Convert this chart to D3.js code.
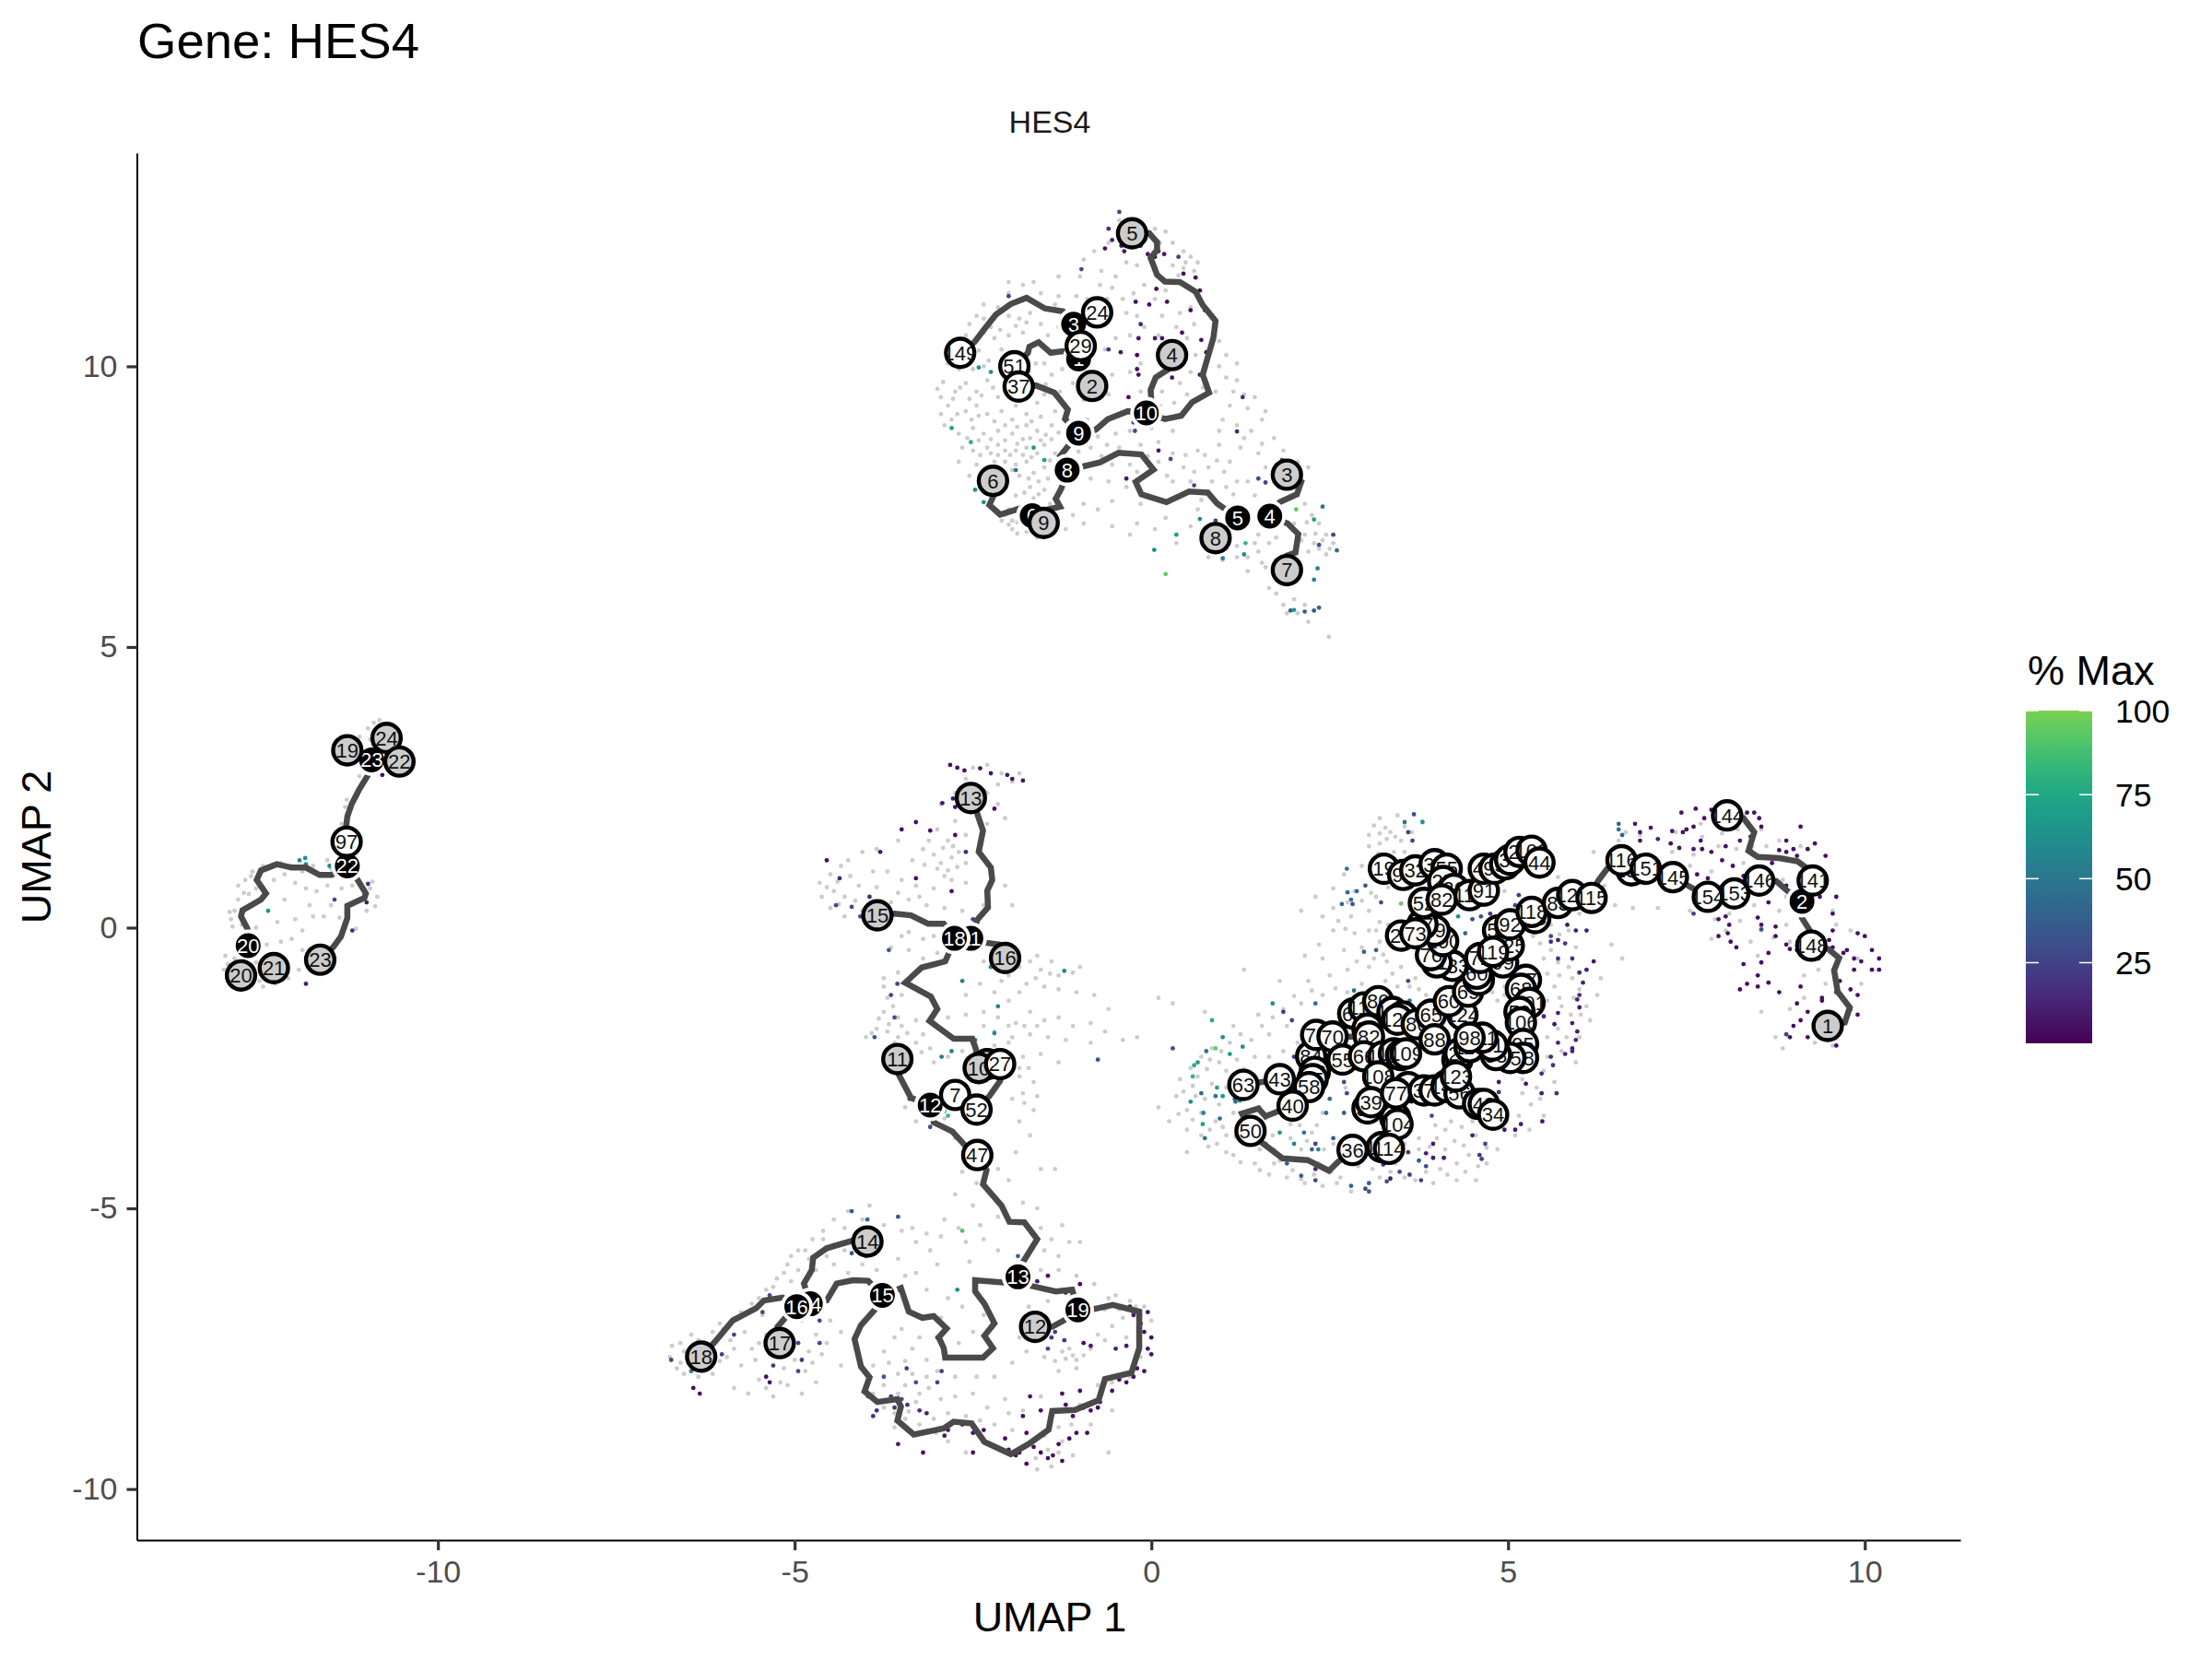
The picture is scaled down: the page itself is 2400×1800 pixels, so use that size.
<!DOCTYPE html>
<html>
<head>
<meta charset="utf-8">
<script src="https://cdn.jsdelivr.net/npm/d3@7"></script>
<style>
  body { margin: 0; background: #fff; }
  text { font-family: "Liberation Sans", Arial, sans-serif; }
</style>
</head>
<body>
<svg id="chart" width="2400" height="1800"></svg>
<script>
const xTicks = [-10, -5, 0, 5, 10]
const yTicks = [-10, -5, 0, 5, 10]
const legendTicks = [25, 50, 75, 100]

// cells with no expression, read off the picture by cluster
const greyTop = [[-0.45,12.6],[-0.3,12.55],[-0.15,12.5],[0.05,12.45],[0.2,12.4],[-0.6,12.2],[-0.8,12.05],[-0.4,12.15],[0.3,12.2],[0.45,12.05],[0.55,11.95],[0.65,11.85],[0.45,11.75],[0.6,11.7],[-0.95,11.9],[-0.7,11.7],[-0.5,11.6],[-0.2,11.8],[0.3,11.8],[0.2,11.35],[0.05,11.2],[-0.1,11.45],[-0.25,11.3],[-0.4,11.2],[-0.55,11.4],[-0.9,11.2],[-1.05,11.25],[-1.3,11.25],[-1.35,11.1],[-1.55,11.3],[-1.0,11.6],[-1.3,11.6],[-2.0,11.5],[-1.65,11.5],[-1.8,11.45],[-2.0,11.3],[-2.15,11.05],[-2.35,11.1],[-2.45,10.9],[-2.2,10.85],[-2.0,10.9],[-1.85,10.85],[-1.7,10.95],[-2.55,10.75],[-2.35,10.6],[-2.6,10.55],[-2.2,10.5],[-2.0,10.55],[-1.8,10.6],[-1.55,10.75],[-1.3,10.7],[-2.85,10.05],[-2.7,9.95],[-2.5,9.95],[-2.35,10.0],[-2.1,10.1],[-1.5,10.05],[-1.4,9.85],[-1.25,9.95],[-1.1,9.7],[-0.65,10.3],[-0.5,10.5],[-0.3,10.55],[-0.1,10.7],[0.1,10.55],[0.35,10.7],[0.5,10.5],[0.6,10.75],[-0.35,10.95],[-0.2,10.9],[0.15,10.9],[0.4,10.95],[0.55,11.05],[-0.55,9.85],[-0.3,9.9],[-0.15,10.05],[0.1,9.85],[0.4,9.7],[0.55,9.9],[0.95,10.45],[1.05,10.2],[1.2,10.05],[0.95,10.0],[1.05,9.8],[1.2,9.75],[0.9,9.55],[1.3,9.5],[1.35,9.25],[1.1,9.3],[1.6,9.2],[1.55,9.05],[1.0,9.05],[1.2,8.95],[0.95,8.85],[1.4,8.85],[-3.0,9.6],[-2.95,9.45],[-2.85,9.3],[-2.95,9.15],[-2.8,9.05],[-2.9,8.95],[-2.75,9.55],[-2.6,9.7],[-2.45,9.55],[-2.3,9.75],[-2.15,9.45],[-2.45,9.3],[-2.6,9.2],[-2.3,9.15],[-2.1,9.2],[-1.9,9.3],[-1.75,9.15],[-1.6,9.35],[-1.95,9.05],[-1.75,8.95],[-1.55,9.1],[-1.4,8.95],[-1.35,9.2],[-2.7,8.8],[-2.5,8.9],[-2.35,8.8],[-2.15,8.85],[-1.95,8.8],[-1.8,8.7],[-1.6,8.85],[-1.4,8.7],[-2.65,8.55],[-2.5,8.5],[-2.3,8.55],[-2.15,8.6],[-2.25,8.45],[-2.05,8.5],[-1.9,8.5],[-1.75,8.55],[-1.6,8.45],[-1.5,8.6],[-1.35,8.45],[-2.7,8.3],[-2.45,8.25],[-2.2,8.3],[-2.05,8.3],[-1.9,8.25],[-1.75,8.3],[-1.95,8.15],[-1.85,8.05],[-1.65,8.1],[-1.5,8.2],[-1.45,8.0],[-2.55,8.05],[-1.7,7.85],[-1.5,7.8],[-1.9,7.7],[-1.65,7.65],[-1.35,7.65],[-2.0,7.45],[-1.95,7.25],[-1.8,7.15],[-2.1,7.25],[-1.95,7.1],[-1.75,7.05],[-1.6,6.95],[-1.2,7.1],[-1.1,7.35],[-0.95,7.55],[-0.95,7.2],[-0.75,7.45],[-0.55,7.15],[-0.55,7.6],[-0.35,7.85],[-0.2,7.2],[-0.3,7.0],[-0.15,7.55],[0.05,7.1],[0.2,7.3],[0.35,6.85],[0.55,7.15],[0.65,7.45],[-0.85,8.0],[-0.6,7.95],[-0.7,8.4],[-0.3,8.25],[-0.15,8.6],[-0.05,8.4],[0.1,8.65],[0.3,8.45],[0.45,8.2],[0.65,8.5],[0.8,8.2],[0.95,8.6],[1.1,8.3],[1.25,8.55],[0.3,7.95],[0.55,7.95],[0.85,7.95],[1.05,7.85],[1.2,7.95],[1.45,7.7],[1.6,8.2],[1.5,8.45],[1.85,8.5],[2.05,8.3],[2.2,8.2],[0.75,6.85],[0.8,6.6],[1.0,6.55],[1.2,6.8],[1.35,6.6],[1.35,6.35],[1.55,6.5],[1.65,6.85],[1.75,6.55],[1.5,7.0],[1.05,7.0],[2.0,7.2],[2.1,6.9],[2.25,7.35],[2.35,7.2],[2.45,7.0],[2.55,6.85],[2.35,6.75],[2.2,6.7],[2.45,6.65],[2.15,7.55],[1.65,6.05],[1.75,5.95],[1.85,5.75],[2.0,5.85],[2.05,5.6],[2.2,5.45],[2.15,5.75],[2.49,5.18],[1.9,5.6],[-0.75,8.75],[-0.5,8.8],[-0.3,8.85],[-0.9,9.05],[-0.6,9.5],[-0.95,9.4],[0.0,8.9],[0.3,8.85]]
const greyTop2 = [[-2.92,9.72],[-2.78,9.42],[-2.68,9.62],[-2.55,9.42],[-2.38,9.48],[-2.22,9.62],[-2.02,9.5],[-1.82,9.45],[-1.5,9.5],[-1.28,9.55],[-1.48,9.68],[-2.72,9.15],[-2.52,9.05],[-2.42,9.12],[-2.2,9.02],[-2.05,8.95],[-1.88,8.92],[-1.68,9.02],[-1.48,8.78],[-1.3,8.82],[-2.58,8.72],[-2.42,8.68],[-2.25,8.7],[-2.05,8.68],[-1.88,8.62],[-1.7,8.72],[-1.55,8.68],[-2.4,8.42],[-2.15,8.42],[-1.98,8.42],[-1.8,8.42],[-1.68,8.38],[-1.42,8.32],[-2.32,8.18],[-2.12,8.12],[-1.72,8.0],[-1.58,7.95],[-1.78,7.75],[-1.58,7.72],[-1.42,7.55],[-1.85,7.4],[-2.05,7.35],[-1.88,7.22],[-1.75,7.3],[-2.0,7.18],[-1.88,7.02],[-1.68,7.12],[-1.02,8.48],[-0.85,8.55],[-0.62,8.6],[-0.45,8.55],[-0.55,8.25],[-0.2,8.12],[0.1,8.3],[0.22,8.05],[0.48,8.42],[0.6,8.12],[0.75,8.42],[0.92,8.32],[1.02,8.12],[0.7,7.62],[0.95,7.5],[1.15,7.72],[1.35,7.95],[1.05,6.75],[1.2,6.6],[1.5,6.7],[1.6,6.42],[1.45,6.85],[0.88,6.72],[1.75,6.95],[2.15,7.0],[2.28,6.85],[2.4,6.9],[2.5,6.75],[2.3,7.02],[2.18,7.22],[-2.62,10.25],[-2.42,10.28],[-2.28,10.1],[-2.1,10.3],[-2.35,10.85],[-2.25,10.7],[-2.12,10.65],[-1.9,10.72],[-1.75,10.78],[-1.45,10.55],[-1.62,10.05],[-1.72,9.9],[-2.55,10.05],[0.62,10.2],[0.72,9.62],[0.32,10.25],[-0.15,9.55],[0.15,9.55],[0.12,9.3],[0.32,9.35],[0.5,9.5],[1.15,9.55],[1.45,9.45],[1.3,8.72],[1.55,8.62],[1.72,8.72],[0.48,11.85],[0.38,11.62],[-0.08,12.25],[0.12,12.2],[-0.35,11.85],[-0.72,11.45],[-0.62,11.2]]
const greyLeft = [[-10.9,3.65],[-10.75,3.6],[-10.65,3.5],[-10.85,3.5],[-10.95,3.35],[-11.1,3.4],[-11.05,3.2],[-11.0,2.85],[-11.1,2.7],[-11.2,2.2],[-11.25,2.05],[-11.35,1.85],[-11.45,1.15],[-11.55,1.2],[-11.5,1.05],[-11.75,1.1],[-11.9,1.0],[-12.05,1.1],[-12.2,1.15],[-12.45,1.1],[-12.6,1.0],[-12.7,0.85],[-12.65,0.6],[-12.8,0.75],[-12.55,0.7],[-12.3,0.85],[-12.15,0.95],[-12.0,0.8],[-11.85,0.7],[-11.7,0.65],[-11.55,0.75],[-11.35,0.7],[-12.15,0.5],[-11.8,0.4],[-11.5,0.4],[-12.85,0.3],[-12.9,0.15],[-12.75,0.05],[-12.55,0.0],[-12.25,0.1],[-12.0,0.15],[-11.9,-0.05],[-11.75,0.2],[-11.6,0.2],[-12.2,-0.25],[-12.05,-0.2],[-12.4,-0.3],[-11.9,-0.4],[-11.2,0.75],[-10.95,0.7],[-10.85,0.55],[-11.0,0.3],[-11.3,0.05],[-11.35,-0.1],[-12.95,-0.65],[-13.0,-0.75],[-12.85,-0.55],[-12.5,-0.95],[-12.45,-1.05],[-12.6,-1.0],[-12.1,-0.9],[-12.15,-0.6],[-11.95,-0.75],[-10.82,3.7],[-10.98,3.55],[-11.18,3.28],[-11.28,2.28],[-11.3,2.15],[-12.62,0.92],[-12.52,0.85],[-12.72,0.62],[-12.8,0.5],[-12.92,0.28],[-12.88,0.02],[-12.98,-0.5],[-12.72,-0.48],[-12.48,-0.75],[-12.55,-0.62],[-12.28,-1.0],[-12.4,-0.82],[-10.88,0.38],[-10.92,0.82],[-11.15,-0.02],[-11.38,0.18]]
const greyMid = [[-2.5,2.85],[-2.3,2.9],[-2.1,2.75],[-1.85,2.75],[-1.95,2.6],[-2.15,2.55],[-2.3,2.4],[-2.6,2.65],[-2.75,2.4],[-2.95,2.2],[-2.65,2.15],[-2.15,2.2],[-2.05,1.95],[-2.3,1.85],[-2.75,1.9],[-3.0,1.75],[-2.85,1.55],[-2.6,1.65],[-3.2,1.4],[-3.05,1.3],[-2.95,1.15],[-2.8,1.25],[-2.7,1.35],[-2.6,1.15],[-3.35,1.2],[-3.55,1.55],[-3.85,1.4],[-4.05,1.35],[-4.25,1.2],[-4.35,1.1],[-4.5,0.95],[-4.65,0.8],[-4.45,0.65],[-4.3,0.55],[-4.1,0.75],[-3.9,1.0],[-3.7,1.0],[-3.5,0.85],[-3.3,0.75],[-3.05,0.7],[-2.8,0.85],[-2.6,0.8],[-4.5,0.35],[-4.3,0.2],[-4.05,0.3],[-3.65,0.45],[-3.4,0.5],[-3.15,0.4],[-2.9,0.35],[-2.65,0.3],[-2.35,0.4],[-2.05,0.75],[-1.95,0.4],[-3.5,-0.15],[-3.65,-0.35],[-3.4,-0.4],[-3.2,-0.2],[-3.05,-0.15],[-3.0,-0.45],[-3.2,-0.55],[-2.35,-0.6],[-2.15,-0.75],[-2.0,-0.85],[-1.85,-0.7],[-1.7,-0.6],[-1.6,-0.5],[-1.55,-0.75],[-1.4,-0.6],[-1.3,-0.85],[-1.1,-0.8],[-1.0,-0.7],[-1.75,-1.0],[-1.5,-1.05],[-1.3,-1.1],[-1.05,-1.15],[-0.8,-1.2],[-0.6,-1.45],[-3.75,-0.9],[-3.55,-0.8],[-3.4,-0.95],[-3.7,-1.25],[-3.5,-1.2],[-3.75,-1.5],[-3.55,-1.6],[-3.85,-1.8],[-4.0,-1.95],[-3.7,-1.85],[-3.5,-1.75],[-3.3,-1.65],[-3.6,-2.05],[-3.2,-1.9],[-3.4,-2.2],[-3.1,-2.15],[-2.85,-1.6],[-2.6,-1.2],[-2.4,-1.0],[-2.2,-1.15],[-2.0,-1.3],[-2.35,-1.5],[-2.6,-1.55],[-2.15,-1.6],[-1.9,-1.7],[-1.7,-1.5],[-1.5,-1.65],[-1.3,-1.6],[-1.1,-1.75],[-0.85,-1.7],[-0.65,-1.85],[-1.95,-1.95],[-1.7,-1.9],[-1.45,-1.95],[-1.2,-2.0],[-0.85,-2.05],[-0.4,-2.0],[-0.2,-1.95],[-2.2,-2.1],[-2.65,-2.2],[-2.85,-2.3],[-3.05,-2.4],[-1.8,-2.3],[-1.55,-2.25],[-1.3,-2.4],[-1.85,-2.65],[-1.65,-2.75],[-1.8,-2.95],[-1.95,-3.05],[-1.65,-3.25],[-1.85,-3.45],[-1.7,-3.7],[-2.9,-3.4],[-3.3,-3.45],[-3.45,-3.2],[-2.75,-3.75],[-1.9,-4.0],[-1.55,-4.3],[-1.35,-4.3],[-2.65,-4.35],[-2.45,-4.55],[-2.15,-4.3],[-2.0,-4.5],[-2.75,-4.75],[-2.5,-4.95],[-2.15,-5.15],[-1.8,-4.9],[-1.6,-5.0],[-1.55,-5.35],[-1.4,-5.55],[-1.25,-5.3],[-1.15,-5.6],[-1.3,-5.85],[-1.0,-5.6],[-1.5,-5.75],[-2.4,-5.3],[-2.7,-5.35],[-2.95,-5.5],[-3.1,-5.75],[-2.6,-5.6],[-2.35,-5.55],[-2.15,-5.75],[-3.5,-5.4],[-3.3,-5.6],[-3.0,-6.0],[-2.55,-5.95],[-3.55,-5.9],[-3.3,-6.15],[-3.15,-6.45],[-3.45,-6.2],[-3.75,-5.3],[-3.95,-4.95],[-4.25,-5.05],[-4.45,-5.2],[-4.6,-5.4],[-4.3,-5.35],[-4.05,-5.2],[-4.75,-5.55],[-4.95,-5.75],[-5.1,-6.0],[-5.25,-6.25],[-5.05,-6.3],[-4.8,-5.9],[-4.55,-5.85],[-4.3,-5.75],[-4.05,-6.0],[-4.25,-6.15],[-3.85,-6.1],[-5.4,-6.45],[-5.6,-6.7],[-5.45,-6.9],[-5.75,-6.85],[-6.0,-7.15],[-5.9,-7.35],[-5.7,-7.2],[-6.15,-7.2],[-6.35,-7.35],[-6.6,-7.4],[-6.75,-7.65],[-6.6,-7.75],[-6.55,-7.95],[-6.35,-8.0],[-6.15,-7.95],[-5.95,-7.65],[-5.75,-7.8],[-5.6,-7.5],[-5.4,-7.25],[-5.2,-7.05],[-4.9,-7.0],[-4.7,-7.25],[-4.5,-7.0],[-4.8,-7.55],[-4.55,-7.4],[-5.35,-7.6],[-5.15,-7.85],[-5.0,-7.7],[-4.85,-7.9],[-5.5,-8.05],[-5.65,-8.3],[-5.85,-8.2],[-5.3,-8.35],[-5.1,-8.15],[-4.7,-8.1],[-4.9,-8.3],[-4.35,-7.8],[-4.15,-7.5],[-4.35,-7.2],[-3.9,-7.8],[-3.75,-7.55],[-3.6,-7.3],[-3.35,-7.5],[-3.15,-7.7],[-3.55,-7.95],[-3.35,-7.95],[-3.15,-8.0],[-3.0,-7.9],[-2.75,-8.0],[-2.45,-8.0],[-2.2,-8.0],[-1.95,-7.75],[-2.7,-7.4],[-2.5,-7.2],[-2.65,-6.75],[-2.35,-6.9],[-1.85,-7.3],[-1.75,-7.55],[-1.5,-7.65],[-1.3,-7.9],[-1.05,-7.85],[-1.15,-7.5],[-0.85,-7.5],[-0.65,-7.35],[-0.55,-7.1],[-0.4,-6.95],[-0.15,-6.9],[-0.1,-6.75],[0.0,-7.0],[-0.8,-6.35],[-1.05,-6.2],[-1.3,-6.1],[-1.55,-6.1],[-0.5,-6.55],[-0.3,-6.65],[-3.9,-8.3],[-3.75,-8.55],[-3.55,-8.3],[-3.3,-8.45],[-3.45,-8.75],[-3.25,-8.85],[-3.05,-8.75],[-3.35,-9.0],[-2.85,-8.65],[-3.6,-8.9],[-2.6,-8.7],[-2.3,-8.55],[-2.05,-8.4],[-1.8,-8.6],[-1.55,-8.35],[-1.25,-8.3],[-1.0,-8.5],[-0.85,-8.85],[-0.55,-8.6],[-2.2,-8.85],[-1.95,-8.95],[-1.75,-9.2],[-1.5,-9.05],[-1.25,-9.15],[-1.1,-9.4],[-1.4,-9.6],[-1.6,-9.65],[-2.6,-9.35],[-2.85,-9.15],[-2.1,-9.3],[-0.6,-9.35],[-0.55,-8.1],[-0.3,-8.0],[-0.75,-8.15],[-0.15,-7.65]]
const greyMid2 = [[-3.12,1.55],[-2.92,1.42],[-3.0,1.05],[-2.85,1.02],[-2.72,1.08],[-2.9,0.92],[-3.18,1.12],[-2.78,1.45],[-4.4,0.82],[-4.22,0.92],[-4.55,0.72],[-4.38,0.42],[-4.15,0.48],[-4.62,0.55],[-3.85,0.72],[-3.55,0.62],[-3.25,0.55],[-2.72,-0.0],[-2.9,-0.02],[-3.4,-0.08],[-3.75,-1.05],[-3.62,-1.4],[-3.82,-1.62],[-3.68,-1.72],[-3.92,-1.88],[-3.55,-1.95],[-3.3,-2.05],[-3.22,-2.22],[-3.42,-1.88],[-2.35,-1.75],[-2.2,-1.85],[-2.0,-1.75],[-2.0,-2.05],[-1.78,-1.75],[-1.6,-1.75],[-1.85,-1.15],[-1.62,-0.9],[-1.42,-0.82],[-1.9,-0.55],[-2.1,-0.95],[-1.85,-2.5],[-1.72,-2.5],[-1.78,-3.12],[-1.6,-3.0],[-2.9,-5.2],[-3.15,-5.45],[-3.35,-5.35],[-4.6,-5.55],[-4.45,-5.65],[-4.15,-5.45],[-3.95,-5.4],[-4.0,-5.75],[-4.85,-5.75],[-5.05,-5.85],[-5.15,-6.15],[-4.95,-6.1],[-4.7,-6.1],[-4.45,-6.0],[-5.3,-6.4],[-5.5,-6.6],[-5.85,-6.95],[-6.05,-7.05],[-6.45,-7.25],[-6.55,-7.55],[-6.72,-7.45],[-6.42,-7.85],[-6.65,-7.85],[-6.25,-7.88],[-6.05,-7.72],[-5.85,-7.5],[-5.5,-7.4],[-5.55,-7.7],[-5.3,-7.25],[-5.05,-7.3],[-4.62,-7.6],[-4.75,-7.75],[-5.4,-8.2],[-5.2,-8.1],[-3.68,-7.75],[-3.45,-7.72],[-3.5,-7.15],[-3.25,-7.3],[-3.75,-8.15],[-3.45,-8.15],[-3.12,-8.2],[-3.25,-8.3],[-3.6,-8.65],[-3.4,-8.62],[-3.18,-8.98],[-3.02,-9.0],[-2.75,-8.35],[-2.5,-8.3],[-2.95,-8.4],[-2.4,-8.78],[-1.35,-7.72],[-1.2,-7.68],[-1.1,-7.62],[-1.25,-7.55],[-1.05,-7.7],[-0.95,-7.62],[-0.75,-7.25],[-0.65,-6.8],[-0.6,-6.6],[-0.45,-6.8],[-0.22,-6.75],[-1.45,-9.3],[-1.3,-9.35],[-1.62,-9.45],[-1.3,-8.9],[-1.12,-8.85],[-2.0,-8.65],[-0.35,-7.3],[-1.72,-6.75],[-1.45,-6.65],[-2.85,-6.6],[-2.95,-6.95]]
const greyRight = [[3.2,1.95],[3.45,2.0],[3.8,1.9],[3.05,1.65],[3.2,1.5],[3.35,1.7],[3.5,1.55],[3.65,1.7],[3.4,1.35],[2.95,1.1],[2.7,0.95],[3.1,0.9],[2.3,0.55],[2.55,0.7],[2.85,0.65],[3.15,0.55],[2.75,0.45],[2.1,0.3],[2.4,0.2],[2.55,0.35],[2.8,0.2],[3.05,0.3],[3.2,0.1],[2.55,-0.05],[2.85,-0.1],[3.05,-0.05],[2.35,-0.3],[2.15,-0.5],[2.4,-0.55],[2.7,-0.4],[2.95,-0.35],[3.2,-0.25],[3.3,-0.6],[3.05,-0.7],[2.75,-0.75],[2.5,-0.85],[2.2,-0.95],[1.8,-0.95],[1.3,-0.75],[3.5,-0.7],[3.7,-0.9],[3.45,-1.05],[3.1,-1.1],[2.75,-1.15],[2.4,-1.2],[2.1,-1.35],[1.85,-1.45],[1.5,-1.55],[1.15,-1.75],[0.75,-1.5],[0.1,-1.25],[0.3,-1.35],[4.1,-0.85],[4.35,-0.95],[3.85,-1.2],[4.75,-0.9],[4.95,-1.05],[4.85,-1.3],[4.55,-1.25],[1.9,-1.75],[1.65,-1.9],[1.4,-2.0],[1.1,-2.05],[0.85,-2.15],[0.7,-2.3],[0.55,-2.5],[0.4,-2.7],[0.65,-2.65],[0.95,-2.4],[1.2,-2.35],[1.45,-2.3],[1.65,-2.3],[1.85,-2.2],[2.05,-2.05],[0.35,-3.0],[0.1,-3.2],[0.25,-3.45],[0.5,-3.6],[0.7,-3.3],[0.75,-3.05],[1.05,-2.85],[0.95,-3.15],[0.9,-3.45],[1.05,-3.7],[0.8,-3.9],[1.15,-3.3],[1.3,-3.5],[0.5,-4.0],[1.15,-4.05],[1.45,-4.2],[1.65,-4.4],[1.9,-4.45],[2.15,-4.55],[2.4,-4.6],[1.8,-4.15],[2.1,-3.95],[2.35,-4.2],[2.65,-4.45],[2.8,-4.7],[2.55,-3.85],[2.25,-3.65],[1.95,-3.5],[1.7,-3.7],[2.4,-3.3],[2.1,-3.25],[3.1,-4.3],[3.35,-4.35],[3.7,-4.5],[3.95,-4.55],[4.15,-4.4],[4.4,-4.35],[4.55,-4.5],[4.1,-4.1],[4.45,-4.05],[4.7,-4.2],[3.75,-3.95],[4.0,-3.75],[4.25,-3.8],[4.55,-3.7],[4.85,-3.95],[4.2,-3.45],[4.8,-3.55],[5.1,-3.7],[5.3,-3.6],[5.5,-3.35],[5.45,-3.05],[5.65,-2.75],[5.95,-2.4],[5.75,-2.2],[5.5,-2.55],[6.0,-1.95],[6.15,-1.65],[6.1,-1.4],[6.25,-1.2],[6.3,-0.9],[6.2,-0.6],[6.0,-1.1],[5.85,-0.7],[5.75,-1.4],[5.65,-1.05],[5.95,-0.35],[5.85,-0.05],[5.6,0.05],[6.0,0.25],[6.45,-0.3],[6.6,-0.55],[6.5,0.4],[6.75,0.35],[7.1,0.35],[7.55,0.3],[5.7,-1.8],[5.55,-1.95],[5.6,-0.4],[5.35,-0.15],[5.1,-0.3],[5.3,0.25],[5.3,-2.4],[5.2,-2.7],[5.2,-2.95],[4.9,-3.15],[3.9,-0.2],[4.15,-0.45],[4.35,0.4],[4.65,0.45],[4.95,0.65],[5.7,0.9],[6.2,1.35],[6.55,1.55],[6.65,1.7],[6.85,1.65],[7.35,1.7],[7.7,1.85],[7.95,2.1],[8.3,2.0],[8.55,1.75],[8.8,1.55],[9.1,1.45],[7.6,1.3],[7.95,1.45],[8.2,1.4],[8.3,1.15],[8.7,1.2],[8.85,0.85],[8.35,0.95],[7.85,1.0],[7.55,1.1],[7.3,1.35],[6.95,1.3],[6.35,0.75],[9.15,1.0],[9.35,0.7],[9.55,0.3],[9.6,0.05],[9.8,-0.05],[8.8,0.3],[8.9,0.05],[8.45,0.4],[8.1,0.25],[7.9,0.15],[8.05,-0.05],[8.55,-0.05],[8.95,-0.25],[8.4,-0.25],[9.35,-0.75],[9.45,-1.0],[9.15,-1.25],[8.95,-1.45],[8.55,-1.5],[8.75,-1.95],[8.85,-2.15],[9.3,-2.05],[9.55,-2.1],[8.5,-0.5],[9.15,-0.85],[9.9,-0.55],[9.95,-1.0]]
const greyRight2 = [[3.12,1.82],[3.28,1.78],[3.42,1.62],[3.55,1.8],[3.2,1.68],[3.3,1.58],[3.05,1.45],[3.18,1.32],[3.55,1.35],[3.32,0.72],[3.08,0.62],[2.95,0.48],[2.62,0.12],[2.72,-0.02],[3.15,-0.05],[3.32,0.05],[3.25,-0.48],[3.12,-0.55],[2.88,-0.6],[3.38,-0.82],[3.62,-1.05],[3.28,-0.95],[2.95,-1.0],[2.58,-1.08],[2.25,-1.12],[2.0,-1.22],[1.7,-1.6],[1.55,-1.75],[1.25,-1.9],[0.98,-2.2],[0.82,-2.35],[0.78,-2.52],[1.05,-2.55],[1.3,-2.52],[0.58,-2.82],[0.45,-2.92],[0.62,-3.0],[0.85,-2.78],[0.5,-3.25],[0.58,-3.42],[0.38,-3.32],[0.82,-3.6],[0.7,-3.7],[1.0,-3.55],[1.18,-3.72],[0.92,-3.85],[1.05,-4.0],[1.25,-4.18],[1.52,-4.32],[1.72,-4.2],[1.98,-4.32],[2.1,-4.48],[2.28,-4.4],[2.52,-4.35],[2.6,-4.55],[1.52,-3.95],[1.72,-3.95],[1.95,-3.75],[2.18,-3.8],[2.42,-3.95],[2.32,-3.52],[2.08,-3.52],[1.88,-3.28],[1.6,-3.4],[1.52,-3.2],[2.9,-4.25],[3.2,-4.45],[3.42,-4.2],[3.55,-4.45],[3.85,-4.35],[4.05,-4.3],[4.28,-4.2],[4.28,-4.5],[4.58,-4.25],[3.9,-3.9],[4.12,-3.95],[4.38,-3.88],[4.7,-3.92],[4.12,-3.6],[4.35,-3.55],[4.98,-3.45],[5.15,-3.35],[5.32,-3.15],[5.4,-2.85],[5.55,-2.3],[5.82,-1.95],[5.88,-1.55],[6.02,-1.55],[5.92,-1.25],[5.72,-1.25],[5.55,-1.3],[5.55,-0.82],[5.72,-0.85],[5.9,-0.9],[5.7,-0.62],[5.5,-0.55],[5.45,-0.28],[5.72,-0.12],[5.58,0.12],[4.12,-0.7],[4.2,-1.05],[4.6,-1.1],[4.78,-1.15],[4.95,-1.2],[4.38,-1.12],[4.05,-1.1],[3.75,-1.1],[2.72,-2.85],[2.92,-3.15],[4.5,-3.45],[4.92,-3.3],[3.75,-3.75],[3.55,-3.85],[3.98,-3.52],[8.22,1.75],[8.42,1.45],[8.62,1.45],[7.72,1.62],[8.0,1.68],[8.9,0.55],[9.15,0.12],[8.72,-0.18],[7.85,-0.2],[8.25,0.12]]

// cells with expression: x, y, % max
const exprTop = [[-0.45,12.75,28],[-0.6,12.45,18],[-0.55,12.25,12],[-0.65,12.1,6],[-0.42,12.15,5],[-0.38,12.05,8],[-0.15,12.15,6],[0.1,12.05,5],[-0.05,12.0,8],[0.05,11.95,4],[0.18,12.0,9],[0.38,11.95,25],[-0.98,11.73,30],[0.07,11.38,4],[0.45,11.65,4],[0.62,11.58,5],[0.68,11.35,4],[0.22,11.15,5],[-0.03,11.1,5],[0.55,11.0,4],[0.75,11.0,4],[-0.22,11.15,6],[-0.15,10.75,14],[-0.18,10.5,8],[-0.2,10.2,5],[0.15,10.5,6],[0.05,10.5,8],[0.43,10.6,5],[0.7,10.47,5],[0.77,10.25,6],[-0.43,10.25,8],[-0.6,10.3,20],[-0.2,9.95,6],[-0.18,9.85,5],[0.29,9.8,7],[0.68,9.85,5],[-0.32,9.45,6],[-0.25,9.0,30],[-0.23,8.85,30],[0.1,8.5,8],[0.27,8.35,30],[1.28,9.45,18],[1.2,8.84,12],[0.6,7.88,28],[-0.35,8.0,10],[1.5,8.0,30],[1.83,8.33,32],[1.6,7.93,28],[-2.0,11.25,26],[-1.9,11.15,25],[-2.42,9.98,62],[-2.25,9.9,60],[-2.8,8.9,70],[-2.53,8.65,80],[-1.65,8.55,70],[-1.5,8.33,72],[-1.9,8.15,50],[-2.08,7.95,50],[-2.47,7.8,62],[-2.35,7.58,62],[0.68,7.28,60],[0.9,7.25,25],[0.95,7.15,28],[0.35,7.0,70],[0.86,6.9,28],[1.3,6.65,62],[1.32,6.85,85],[0.2,6.3,95],[0.04,6.73,60],[1.0,6.58,55],[2.03,7.45,95],[2.28,7.27,70],[2.4,7.5,50],[2.55,7.0,28],[2.35,6.82,35],[2.6,6.72,45],[2.33,6.4,55],[2.28,6.2,55],[2.35,5.7,38],[2.28,5.65,32],[2.15,5.63,40],[2.0,5.66,70],[1.95,5.65,40]]
const exprLeft = [[-11.94,1.2,60],[-11.86,1.24,62],[-11.85,1.13,60],[-11.52,1.1,62],[-10.98,0.78,20],[-11.0,0.45,10],[-11.45,0.5,30],[-12.38,0.3,68],[-11.2,-0.05,18],[-11.85,-1.0,12],[-10.78,2.72,6]]
const exprMid = [[-2.82,2.9,6],[-2.72,2.85,6],[-2.62,2.8,6],[-2.4,2.84,6],[-2.25,2.75,8],[-2.02,2.72,6],[-1.95,2.65,5],[-1.8,2.62,8],[-2.78,2.3,8],[-2.75,2.15,5],[-2.6,2.12,6],[-2.93,2.22,8],[-2.35,2.43,6],[-2.2,2.12,6],[-3.3,1.88,8],[-3.5,1.75,6],[-3.1,1.73,6],[-2.75,1.65,6],[-2.6,1.35,15],[-3.8,1.35,8],[-4.55,1.2,6],[-4.37,0.88,15],[-3.3,0.88,6],[-2.8,0.65,8],[-3.95,0.55,15],[-4.42,0.4,30],[-4.2,0.37,30],[-4.08,0.2,32],[-2.5,0.15,25],[-3.68,-0.4,35],[-3.56,-1.0,28],[-3.65,-1.2,28],[-3.6,-1.6,32],[-3.88,-1.95,35],[-2.65,-0.95,55],[-2.25,-0.7,58],[-1.22,-0.77,58],[-2.15,-1.4,55],[-2.2,-1.88,60],[-2.47,-2.0,60],[-2.8,-2.2,60],[-2.94,-2.3,50],[-3.39,-3.05,30],[-2.9,-3.27,85],[-2.85,-3.35,85],[-3.1,-3.55,30],[-0.75,-2.35,32],[-3.55,-5.15,35],[-3.98,-5.2,45],[-4.2,-5.05,35],[-4.1,-5.55,30],[-4.2,-5.8,35],[-4.0,-5.85,35],[-2.65,-5.4,90],[-2.72,-6.45,65],[-1.87,-5.85,38],[-1.0,-6.35,6],[-1.2,-6.5,5],[-1.45,-6.2,6],[-1.6,-6.3,10],[-5.35,-6.55,30],[-5.45,-6.85,28],[-5.85,-7.25,28],[-6.22,-7.55,28],[-6.45,-7.6,20],[-6.73,-7.7,28],[-6.45,-7.9,55],[-6.02,-7.6,25],[-5.3,-7.8,22],[-5.35,-8.1,6],[-5.4,-8.0,6],[-5.35,-7.45,10],[-4.95,-7.4,28],[-4.9,-7.7,22],[-4.65,-7.0,25],[-4.65,-7.4,30],[-4.95,-7.9,30],[-6.42,-8.2,6],[-6.33,-8.3,6],[-3.43,-7.85,25],[-3.75,-8.0,35],[-3.3,-8.1,30],[-3.0,-8.1,25],[-2.92,-7.45,24],[-2.94,-7.9,25],[-3.0,-7.3,22],[-3.65,-8.35,22],[-3.97,-8.35,22],[-3.85,-8.6,18],[-3.9,-8.7,18],[-3.6,-8.55,22],[-3.5,-8.4,30],[-3.42,-8.5,20],[-3.25,-8.6,16],[-3.15,-8.65,12],[-3.55,-9.2,8],[-3.2,-9.35,6],[-2.85,-8.95,10],[-2.9,-9.05,8],[-2.65,-8.85,6],[-2.5,-9.0,8],[-2.5,-9.35,6],[-2.35,-8.95,5],[-2.05,-9.1,5],[-2.0,-9.3,5],[-1.9,-9.4,5],[-1.85,-9.35,5],[-1.75,-9.55,5],[-1.65,-9.25,5],[-1.75,-9.0,5],[-1.55,-9.35,5],[-1.45,-9.45,5],[-1.38,-9.4,5],[-1.25,-9.5,5],[-1.3,-9.2,5],[-1.15,-9.1,5],[-1.05,-9.0,5],[-0.9,-9.0,5],[-1.1,-8.7,5],[-1.2,-8.5,5],[-1.25,-8.3,8],[-1.55,-8.6,5],[-1.8,-8.7,5],[-1.7,-8.35,8],[-0.95,-8.55,6],[-1.0,-8.25,6],[-0.85,-8.6,5],[-0.75,-8.55,5],[-0.72,-8.45,6],[-0.55,-8.25,6],[-0.45,-8.05,5],[-0.35,-8.1,5],[-0.25,-8.0,6],[-0.2,-7.85,5],[-0.1,-7.9,6],[0.0,-7.6,8],[-0.05,-7.5,8],[0.0,-7.3,6],[-0.1,-7.2,5],[-0.15,-7.05,5],[-0.25,-6.9,6],[-0.3,-6.75,6],[-0.05,-6.85,8],[-0.5,-7.5,12],[-0.35,-7.45,10],[-0.85,-7.45,10],[-1.08,-7.0,8],[-1.22,-7.35,22],[-1.4,-7.3,22],[-1.35,-7.2,25],[-1.65,-7.35,25],[-1.45,-7.5,30],[-0.95,-7.4,6],[-0.25,-6.85,25]]
const exprRight = [[3.68,2.02,32],[3.8,1.88,68],[3.55,1.88,50],[3.6,1.7,25],[3.66,1.55,25],[2.74,1.05,52],[3.0,0.75,35],[2.88,0.65,45],[2.75,0.63,45],[2.67,0.42,45],[2.8,0.5,45],[2.82,0.42,32],[3.22,0.45,30],[3.5,0.43,95],[4.3,0.2,62],[4.5,0.15,30],[4.62,0.2,32],[4.75,0.25,22],[3.15,-0.4,38],[2.98,-0.43,40],[4.4,-0.1,40],[5.1,0.4,25],[5.15,0.58,25],[5.4,0.5,25],[5.45,0.35,10],[5.6,-0.15,30],[5.83,0.05,8],[5.95,-0.05,12],[6.1,-0.05,12],[5.6,-0.25,18],[5.7,-0.22,12],[5.8,-0.28,20],[5.7,-0.55,20],[5.9,-0.55,18],[6.0,-0.8,16],[6.2,-0.6,8],[6.1,-0.75,12],[6.05,-0.98,14],[6.0,-1.2,18],[5.97,-1.28,14],[6.0,-1.42,8],[5.7,-1.52,14],[5.65,-1.72,8],[5.9,-1.7,12],[5.97,-1.85,12],[5.95,-2.0,16],[5.9,-2.15,14],[5.7,-2.05,14],[5.8,-2.25,14],[5.6,-2.3,14],[5.5,-1.58,14],[5.63,-2.45,20],[5.47,-2.6,15],[5.47,-2.95,12],[5.68,-2.95,20],[5.9,-2.2,16],[4.82,-2.05,62],[3.62,-1.3,48],[2.84,-1.12,45],[3.6,-0.95,30],[1.85,-1.5,20],[1.97,-1.65,25],[2.0,-2.3,20],[2.3,-1.35,50],[1.7,-1.35,62],[0.85,-1.65,78],[1.0,-1.95,62],[1.28,-2.12,62],[0.9,-2.15,95],[1.1,-2.25,72],[0.65,-2.4,70],[0.77,-2.2,48],[0.3,-2.15,30],[0.6,-2.45,78],[0.58,-2.65,82],[0.92,-2.85,72],[1.0,-3.0,68],[0.7,-2.95,48],[0.9,-3.0,52],[0.55,-3.1,62],[0.73,-3.3,58],[1.18,-3.1,48],[1.24,-3.08,50],[1.72,-2.7,60],[1.45,-2.75,35],[1.17,-3.05,35],[0.96,-3.4,50],[0.75,-3.75,50],[0.72,-3.5,72],[1.8,-3.65,68],[2.0,-3.85,58],[2.3,-3.85,25],[2.14,-3.65,50],[2.25,-3.95,42],[2.34,-3.95,55],[2.55,-3.75,35],[2.7,-3.3,38],[2.45,-3.3,45],[2.5,-3.05,48],[2.74,-2.95,30],[2.95,-3.0,35],[2.7,-2.75,30],[3.75,-2.9,25],[4.87,-2.93,20],[3.93,-3.35,30],[3.65,-3.1,32],[3.85,-4.02,12],[3.95,-3.85,10],[3.95,-4.1,8],[3.85,-4.25,30],[4.1,-4.1,10],[3.6,-4.0,22],[3.62,-4.4,22],[3.48,-4.35,30],[3.35,-4.47,8],[3.3,-4.52,32],[3.05,-4.55,35],[3.05,-4.7,36],[3.0,-4.65,30],[2.8,-4.6,40],[2.3,-4.5,28],[2.3,-4.3,14],[2.1,-4.42,38],[1.9,-4.2,38],[1.6,-3.85,62],[1.3,-3.65,50],[3.75,-4.15,35],[3.25,-4.22,20],[3.78,-4.5,25],[4.5,-3.7,12],[4.6,-4.05,22],[4.63,-4.12,25],[4.68,-3.85,30],[4.95,-3.6,8],[5.1,-3.6,8],[4.65,-3.2,30],[5.18,-3.5,10],[5.48,-3.45,8],[5.25,-2.78,6],[4.87,-2.75,8],[4.68,-3.05,12],[6.55,1.85,42],[6.55,1.75,50],[6.6,1.65,40],[6.78,1.85,8],[7.0,1.78,8],[6.85,1.7,8],[7.1,1.58,14],[7.3,1.72,8],[7.28,1.5,6],[6.85,1.55,8],[7.45,1.7,6],[7.6,1.8,6],[7.7,1.55,8],[8.0,1.98,6],[8.2,2.1,8],[8.35,2.05,6],[8.45,2.05,6],[7.85,2.1,6],[7.63,2.12,6],[7.43,2.05,6],[7.75,1.95,6],[7.5,1.75,6],[7.6,1.4,8],[7.72,1.4,6],[7.4,1.42,8],[7.85,1.35,8],[8.05,1.45,6],[8.15,1.1,6],[8.0,1.2,6],[8.55,1.8,6],[8.52,1.95,6],[8.4,1.62,6],[8.4,1.38,30],[8.25,1.55,10],[8.9,1.55,6],[9.1,1.8,6],[9.3,1.5,6],[9.0,1.4,6],[8.8,1.38,6],[8.95,1.2,6],[8.7,1.15,6],[9.05,1.28,6],[8.9,1.35,6],[9.2,1.4,6],[9.45,1.28,6],[9.37,0.55,6],[9.6,0.55,6],[9.55,0.25,6],[8.9,0.75,6],[7.65,0.95,6],[7.45,0.88,6],[8.3,0.92,6],[7.8,0.88,6],[8.55,1.05,6],[8.3,0.42,6],[8.65,0.45,6],[8.5,0.18,6],[8.05,0.2,6],[7.95,0.15,6],[8.1,0.05,6],[8.55,0.05,6],[8.75,0.02,6],[7.6,0.25,25],[8.55,-0.03,30],[8.08,-0.1,6],[8.12,-0.25,6],[8.2,-0.35,6],[7.95,-0.15,6],[8.75,-0.15,6],[8.9,-0.3,6],[8.95,-0.38,6],[8.65,-0.45,6],[9.05,-0.4,6],[9.35,-0.25,6],[9.5,-0.22,6],[9.55,-0.05,6],[9.9,-0.1,6],[10.0,-0.15,6],[10.1,-0.4,6],[10.2,-0.55,6],[9.95,-0.6,6],[10.2,-0.75,6],[10.1,-0.75,6],[9.75,-0.4,6],[9.85,-0.55,6],[9.65,-0.95,6],[9.35,-0.55,6],[9.55,-0.35,6],[9.7,-0.45,6],[9.85,-0.75,8],[9.8,-1.1,6],[9.6,-1.15,6],[9.4,-1.3,6],[9.9,-1.2,6],[9.1,-1.05,6],[9.05,-1.35,6],[8.3,-0.65,6],[8.55,-0.62,6],[8.5,-0.85,6],[8.65,-0.98,6],[8.8,-1.15,6],[8.5,-1.05,6],[8.25,-1.1,6],[8.35,-1.0,6],[9.8,-1.45,6],[9.9,-1.55,6],[9.65,-1.85,6],[9.4,-1.25,6],[9.1,-1.65,6],[9.2,-1.5,6],[9.0,-1.75,6],[8.95,-1.95,6],[8.9,-1.9,25],[9.2,-1.95,6],[9.6,-2.1,6]]

// trajectory pieces, each read along the thick line
const pathsTop = [
  [[-0.27,12.37],[-0.03,12.37],[0.08,12.21],[0.08,12.07],[-0.01,11.93],[0.08,11.63],[0.19,11.51],[0.40,11.50],[0.62,11.33],[0.72,11.09],[0.90,10.81],[0.87,10.51],[0.77,10.07],[0.72,9.85],[0.81,9.53],[0.57,9.36],[0.42,9.12],[0.19,9.06],[-0.07,9.17]],
  [[-0.07,9.17],[0.01,9.17],[-0.01,9.58],[0.06,9.8],[0.23,9.94],[0.29,10.2]],
  [[-1.02,8.81],[-0.78,8.87],[-0.61,9.06],[-0.33,9.2],[-0.07,9.17]],
  [[-1.86,9.64],[-1.62,9.66],[-1.36,9.53],[-1.17,9.23],[-1.21,9.06],[-1.02,8.81]],
  [[-1.92,10.0],[-1.73,10.24],[-1.71,10.35],[-1.58,10.43],[-1.41,10.24],[-1.24,10.27],[-1.02,10.13]],
  [[-2.68,10.24],[-2.48,10.43],[-2.33,10.68],[-2.18,10.92],[-1.97,11.11],[-1.75,11.22],[-1.49,11.03],[-1.24,10.98],[-1.09,10.75]],
  [[-1.02,8.81],[-1.28,8.4],[-1.18,8.15]],
  [[-1.18,8.15],[-0.98,8.21],[-0.72,8.29],[-0.46,8.46],[-0.14,8.43],[0.03,8.16],[-0.22,7.94],[-0.14,7.72],[0.21,7.58],[0.53,7.77],[0.79,7.75],[0.92,7.56],[1.21,7.3]],
  [[1.66,7.33],[1.8,7.58],[2.04,7.72],[2.1,7.94],[1.9,8.07]],
  [[1.66,7.33],[1.91,7.2],[2.06,7.01],[2.02,6.68],[1.91,6.63],[1.9,6.37]],
  [[-2.22,7.96],[-2.22,7.67],[-2.27,7.53],[-2.12,7.36],[-1.84,7.47],[-1.67,7.34]],
  [[-1.18,8.15],[-1.26,7.83],[-1.34,7.64],[-1.28,7.5],[-1.45,7.45],[-1.51,7.21]]
]
const pathsLeft = [
  [[-10.93,2.99],[-10.97,2.74],[-11.1,2.47],[-11.21,2.2],[-11.27,1.98],[-11.29,1.76],[-11.28,1.53]],
  [[-11.27,1.1],[-11.49,0.94],[-11.66,0.94],[-11.85,1.07],[-12.05,1.07],[-12.26,1.13],[-12.48,1.02],[-12.54,0.85],[-12.41,0.61],[-12.48,0.5],[-12.74,0.31],[-12.76,0.2],[-12.67,-0.02],[-12.66,-0.32]],
  [[-11.27,1.1],[-11.14,0.88],[-11.01,0.61],[-11.03,0.53],[-11.27,0.39],[-11.27,0.17],[-11.36,-0.16],[-11.47,-0.35],[-11.65,-0.57]],
  [[-12.66,-0.32],[-12.76,-0.85]]
]
const pathsMid = [
  [[-2.53,2.31],[-2.44,2.03],[-2.36,1.73],[-2.42,1.35],[-2.25,1.07],[-2.23,0.85],[-2.3,0.66],[-2.29,0.36],[-2.44,0.14],[-2.53,-0.19]],
  [[-3.84,0.22],[-3.6,0.25],[-3.37,0.22],[-3.13,0.07],[-2.91,0.07],[-2.76,-0.19]],
  [[-2.53,-0.19],[-2.36,-0.26],[-2.14,-0.3],[-2.05,-0.54]],
  [[-2.76,-0.19],[-2.85,-0.49],[-2.89,-0.6],[-3.22,-0.71],[-3.45,-0.98],[-3.09,-1.23],[-3.0,-1.45],[-3.11,-1.66],[-2.77,-1.98],[-2.51,-1.98],[-2.46,-2.16],[-2.42,-2.5]],
  [[-3.56,-2.34],[-3.54,-2.62],[-3.37,-3.03],[-3.1,-3.16]],
  [[-3.1,-3.16],[-3.05,-3.47],[-2.79,-3.63],[-2.59,-3.91],[-2.44,-4.05]],
  [[-2.12,-2.43],[-2.12,-2.73],[-2.27,-3.0],[-2.45,-3.24]],
  [[-2.44,-4.05],[-2.31,-4.32],[-2.36,-4.57],[-2.1,-4.95],[-1.99,-5.24],[-1.78,-5.25],[-1.6,-5.55],[-1.8,-5.96],[-1.87,-6.22]],
  [[-3.98,-5.59],[-4.2,-5.58],[-4.55,-5.71],[-4.74,-5.88],[-4.76,-6.1],[-4.87,-6.34],[-4.78,-6.7]],
  [[-6.31,-7.64],[-6.12,-7.38],[-5.87,-7.0],[-5.54,-6.78],[-5.43,-6.64],[-5.17,-6.59],[-4.97,-6.75]],
  [[-5.21,-7.4],[-5.24,-7.11],[-5.13,-6.95],[-4.97,-6.75]],
  [[-4.78,-6.7],[-4.55,-6.64],[-4.41,-6.34],[-4.18,-6.28],[-3.97,-6.29],[-3.77,-6.55]],
  [[-3.77,-6.55],[-3.51,-6.42],[-3.4,-6.84],[-3.21,-6.95],[-3.05,-6.92],[-2.87,-7.14],[-2.98,-7.3],[-2.91,-7.49],[-2.89,-7.66],[-2.36,-7.66],[-2.22,-7.49],[-2.34,-7.27],[-2.2,-7.05],[-2.34,-6.7],[-2.47,-6.48],[-2.47,-6.28],[-2.08,-6.32],[-1.87,-6.22]],
  [[-3.77,-6.55],[-3.88,-6.81],[-4.07,-7.08],[-4.16,-7.33],[-4.07,-7.82],[-3.95,-8.01],[-4.02,-8.26],[-3.84,-8.45],[-3.56,-8.4],[-3.51,-8.53],[-3.56,-8.78],[-3.33,-9.03],[-2.91,-8.92],[-2.77,-8.8],[-2.52,-8.83],[-2.34,-9.16],[-1.97,-9.38],[-1.71,-9.19],[-1.44,-8.94],[-1.39,-8.61],[-1.07,-8.59],[-0.74,-8.42],[-0.65,-8.04],[-0.28,-7.93],[-0.17,-7.49],[-0.17,-7.16],[-0.17,-6.84],[-0.54,-6.72],[-0.79,-6.79],[-1.03,-6.81]],
  [[-1.87,-6.22],[-1.69,-6.38],[-1.34,-6.48],[-1.11,-6.45],[-1.03,-6.81]],
  [[-1.63,-7.11],[-1.39,-7.11],[-1.23,-7.0],[-1.03,-6.81]]
]
const pathsRight = [
  [[8.07,2.0],[8.3,1.95],[8.45,1.7],[8.37,1.37],[8.5,1.26],[8.8,1.24],[9.06,1.18],[9.23,1.02],[9.27,0.84]],
  [[8.52,0.84],[8.76,0.83],[8.91,0.66],[9.12,0.47]],
  [[9.12,0.47],[9.12,0.17],[9.23,-0.05],[9.25,-0.32]],
  [[9.25,-0.32],[9.49,-0.38],[9.64,-0.54],[9.57,-0.76],[9.62,-1.14],[9.79,-1.42],[9.72,-1.69],[9.48,-1.75]],
  [[6.15,0.53],[6.26,0.83],[6.39,1.05],[6.59,1.2],[6.73,1.02],[6.93,1.05],[7.31,0.9],[7.8,0.55],[8.17,0.61],[8.52,0.84]],
  [[1.29,-2.8],[1.8,-2.7],[2.21,-2.84],[1.98,-3.17]],
  [[1.98,-3.17],[1.6,-3.36],[1.5,-3.22],[1.27,-3.31],[1.39,-3.62],[1.55,-3.83],[1.84,-4.11],[2.19,-4.14],[2.49,-4.33],[2.61,-4.18],[2.82,-3.96]],
  [[2.82,-3.96],[3.33,-3.94],[3.45,-3.5],[3.05,-3.22],[3.18,-2.65],[3.05,-1.94],[2.54,-1.94],[2.24,-2.29],[2.83,-1.53],[3.38,-1.5],[3.97,-1.99],[3.92,-1.55],[4.35,-1.14],[4.57,-0.93],[4.24,-0.62],[3.97,-0.24],[3.6,0.06],[3.81,0.44],[4.06,0.69],[4.65,0.83],[5.0,1.21],[5.43,1.16]],
  [[4.6,-0.5],[4.9,-0.1],[5.37,0.17],[5.7,0.5],[6.15,0.53]],
  [[4.78,-2.32],[5.2,-2.1],[5.3,-1.34],[5.25,-0.93],[4.9,-0.54]],
  [[4.28,-2.3],[3.97,-2.9],[4.58,-3.14],[4.79,-3.33]]
]

const branchNodes = [
  [-1.09,10.75,'3'],[-1.02,10.13,'1'],[-1.02,8.81,'9'],[-0.07,9.17,'10'],[-1.18,8.15,'8'],[1.21,7.3,'5'],[1.66,7.33,'4'],[-1.67,7.34,'6'],
  [-10.93,2.99,'23'],[-11.27,1.1,'22'],[-12.66,-0.32,'20'],
  [-2.53,-0.19,'11'],[-2.76,-0.19,'18'],[-3.1,-3.16,'12'],[-1.87,-6.22,'13'],[-3.77,-6.55,'15'],[-4.78,-6.7,'14'],[-4.97,-6.75,'16'],[-1.03,-6.81,'19'],
  [9.12,0.47,'2']
]
const leafNodes = [
  [-0.27,12.37,'5'],[0.29,10.2,'4'],[-0.83,9.65,'2'],[1.9,8.07,'3'],[-2.22,7.96,'6'],[-1.51,7.21,'9'],[0.9,6.94,'8'],[1.9,6.37,'7'],
  [-11.27,3.16,'19'],[-10.72,3.38,'24'],[-10.54,2.96,'22'],[-12.76,-0.85,'20'],[-12.3,-0.72,'21'],[-11.65,-0.57,'23'],
  [-2.53,2.31,'13'],[-3.84,0.22,'15'],[-2.05,-0.54,'16'],[-3.56,-2.34,'11'],[-2.3,-2.43,'1'],[-2.42,-2.5,'10'],
  [-3.98,-5.59,'14'],[-6.31,-7.64,'18'],[-5.21,-7.4,'17'],[-1.63,-7.11,'12'],
  [9.48,-1.75,'1']
]
const rootNodes = [
  [-0.76,10.96,'24'],[-0.99,10.36,'29'],[-2.68,10.24,'149'],[-1.92,10.0,'51'],[-1.86,9.64,'37'],
  [-11.28,1.53,'97'],
  [-2.12,-2.43,'27'],[-2.75,-2.98,'7'],[-2.45,-3.24,'52'],[-2.44,-4.05,'47'],
  [8.07,2.0,'144'],[9.27,0.84,'141'],[9.25,-0.32,'148'],[8.52,0.84,'146'],[8.17,0.61,'153'],[7.8,0.55,'154'],[7.31,0.9,'145'],[6.73,1.02,'135'],[6.59,1.2,'116'],[6.93,1.05,'151'],
  [2.24,-2.29,'84'],[2.29,-2.57,'62'],[2.26,-2.7,'85'],[2.31,-1.91,'75'],[2.54,-1.94,'70'],[2.83,-1.53,'61'],[2.98,-1.42,'117'],[3.18,-1.31,'80'],[3.03,-1.8,'83'],[3.38,-1.5,'112'],[3.52,-1.58,'120'],[3.45,-1.64,'128'],[3.72,-1.72,'86'],[3.92,-1.55,'65'],[3.05,-1.94,'82'],[2.68,-2.35,'55'],[2.98,-2.29,'66'],[3.25,-2.29,'110'],[3.4,-2.24,'103'],[3.5,-2.27,'105'],[3.57,-2.24,'109'],[3.18,-2.65,'108'],[3.03,-3.22,'33'],[3.08,-3.11,'39'],[3.42,-3.39,'30'],[3.45,-3.5,'104'],[3.6,-2.84,'91'],[3.43,-2.95,'77'],[3.82,-2.9,'31'],[3.97,-2.9,'74'],[4.14,-2.81,'127'],[4.14,-2.84,'140'],[4.32,-2.95,'56'],[4.58,-3.14,'64'],[4.66,-3.14,'42'],[4.79,-3.33,'34'],[4.29,-2.35,'122'],[4.32,-2.24,'27'],[4.27,-2.65,'123'],[4.46,-2.13,'113'],[4.36,-1.55,'124'],[4.17,-1.31,'60'],[4.44,-1.14,'69'],[4.59,-0.93,'89'],[4.56,-0.82,'60'],[4.22,-0.68,'133'],[4.0,-0.62,'71'],[3.92,-0.49,'76'],[4.09,-0.24,'100'],[3.97,-0.05,'79'],[3.8,0.06,'67'],[3.82,0.44,'52'],[3.5,-0.14,'26'],[3.7,-0.1,'73'],[4.93,-0.62,'99'],[4.61,-0.54,'72'],[4.86,-0.05,'57'],[5.01,-0.32,'125'],[5.03,0.06,'92'],[4.79,-0.43,'119'],[5.38,0.17,'96'],[5.33,0.28,'118'],[5.7,0.44,'83'],[5.9,0.58,'121'],[6.17,0.53,'115'],[5.25,-0.93,'87'],[5.18,-1.09,'68'],[5.3,-1.34,'101'],[5.16,-1.5,'59'],[5.18,-1.69,'106'],[5.21,-2.07,'95'],[5.21,-2.32,'78'],[5.03,-2.32,'35'],[4.83,-2.27,'38'],[4.78,-2.1,'31'],[4.64,-1.96,'111'],[4.46,-1.96,'98'],[3.97,-1.99,'88'],
  [3.26,1.05,'19'],[3.53,0.94,'93'],[3.7,1.02,'32'],[3.97,1.13,'35'],[4.14,1.05,'55'],[4.09,0.83,'25'],[4.24,0.69,'26'],[4.07,0.5,'82'],[4.46,0.58,'116'],[4.66,0.66,'91'],[4.66,1.05,'41'],[4.81,1.05,'94'],[4.96,1.13,'90'],[5.03,1.21,'39'],[5.16,1.35,'28'],[5.33,1.37,'102'],[5.44,1.16,'44'],
  [1.29,-2.8,'63'],[1.8,-2.7,'43'],[2.21,-2.84,'58'],[1.98,-3.17,'40'],[1.39,-3.62,'50'],[2.82,-3.96,'36'],[3.23,-3.91,'143'],[3.33,-3.94,'114']
]

const xScale = d3.scaleLinear().domain([-14.22, 11.34]).range([148.5, 2127])
const yScale = d3.scaleLinear().domain([-10.91, 13.8]).range([1671, 166])
const colorScale = d3.scaleSequential(t => d3.interpolateViridis(t * 0.8)).domain([1, 100])
const legendY = d3.scaleLinear().domain([1, 100]).range([1132, 771])

const svg = d3.select('#chart')

svg.append('text').attr('x', 149).attr('y', 63).attr('font-size', 54.5).text('Gene: HES4')
svg.append('text').attr('x', 1139).attr('y', 144).attr('text-anchor', 'middle').attr('font-size', 34).attr('fill', '#1a1a1a').text('HES4')

// points
const pointGroup = svg.append('g')
const greys = [...greyTop, ...greyTop2, ...greyLeft, ...greyMid, ...greyMid2, ...greyRight, ...greyRight2]
pointGroup.selectAll('.grey')
  .data(greys)
  .join('circle')
  .attr('class', 'grey')
  .attr('cx', d => xScale(d[0]))
  .attr('cy', d => yScale(d[1]))
  .attr('r', 2.4)
  .attr('fill', '#cccccc')
const exprs = [...exprTop, ...exprLeft, ...exprMid, ...exprRight]
pointGroup.selectAll('.expr')
  .data(exprs)
  .join('circle')
  .attr('class', 'expr')
  .attr('cx', d => xScale(d[0]))
  .attr('cy', d => yScale(d[1]))
  .attr('r', 2.4)
  .attr('fill', d => colorScale(d[2]))

// trajectory
const line = d3.line().x(d => xScale(d[0])).y(d => yScale(d[1]))
svg.append('g')
  .selectAll('path')
  .data([...pathsTop, ...pathsLeft, ...pathsMid, ...pathsRight])
  .join('path')
  .attr('d', line)
  .attr('fill', 'none')
  .attr('stroke', '#4a4a4a')
  .attr('stroke-width', 6.5)

// nodes: branch points first, then leaves, then roots
const defs = svg.append('defs')
function drawNodes(nodes, prefix, fill, stroke, textFill, r, sw, fs) {
  const g = svg.append('g')
  nodes.forEach((d, i) => {
    const cx = xScale(d[0]), cy = yScale(d[1])
    defs.append('clipPath').attr('id', prefix + i)
      .append('circle').attr('cx', cx).attr('cy', cy).attr('r', r)
    const n = g.append('g')
    n.append('circle').attr('cx', cx).attr('cy', cy).attr('r', r)
      .attr('fill', fill).attr('stroke', stroke).attr('stroke-width', sw)
    n.append('text').attr('x', cx).attr('y', cy).attr('dy', '0.36em')
      .attr('text-anchor', 'middle').attr('font-size', fs).attr('fill', textFill)
      .attr('clip-path', `url(#${prefix}${i})`).text(d[2])
  })
}
drawNodes(branchNodes, 'b', '#000', '#fff', '#fff', 15.5, 4, 22)
drawNodes(leafNodes, 'l', '#cccccc', '#000', '#111', 15.4, 4.4, 22)
drawNodes(rootNodes, 'r', '#fff', '#000', '#111', 15.4, 4.4, 22)

// axes
const xAxis = svg.append('g').attr('transform', 'translate(0,1671)')
  .call(d3.axisBottom(xScale).tickValues(xTicks).tickSize(11).tickSizeOuter(0).tickPadding(11).tickFormat(d => String(d)))
const yAxis = svg.append('g').attr('transform', 'translate(148.5,0)')
  .call(d3.axisLeft(yScale).tickValues(yTicks).tickSize(11).tickSizeOuter(0).tickPadding(10).tickFormat(d => String(d)))
for (const a of [xAxis, yAxis]) {
  a.selectAll('text').attr('font-size', 34).attr('fill', '#4d4d4d').attr('font-family', '"Liberation Sans", Arial, sans-serif')
  a.selectAll('line').attr('stroke', '#333').attr('stroke-width', 3.2)
  a.select('.domain').attr('stroke', '#000').attr('stroke-width', 2)
}
svg.append('text').attr('x', 1139).attr('y', 1770).attr('text-anchor', 'middle').attr('font-size', 45).text('UMAP 1')
svg.append('text').attr('transform', 'translate(55,919) rotate(-90)').attr('text-anchor', 'middle').attr('font-size', 45).text('UMAP 2')

// legend
const grad = defs.append('linearGradient').attr('id', 'bar').attr('x1', 0).attr('x2', 0).attr('y1', 1).attr('y2', 0)
d3.range(1, 101, 3).forEach(v => {
  grad.append('stop').attr('offset', (v - 1) / 99).attr('stop-color', colorScale(v))
})
svg.append('rect').attr('x', 2198).attr('y', legendY(100)).attr('width', 72)
  .attr('height', legendY(1) - legendY(100)).attr('fill', 'url(#bar)')
svg.append('text').attr('x', 2200).attr('y', 743).attr('font-size', 45).text('% Max')
const legendG = svg.append('g')
legendTicks.forEach(v => {
  legendG.append('line').attr('x1', 2198).attr('x2', 2212).attr('y1', legendY(v)).attr('y2', legendY(v)).attr('stroke', '#fff').attr('stroke-width', 1.5)
  legendG.append('line').attr('x1', 2256).attr('x2', 2270).attr('y1', legendY(v)).attr('y2', legendY(v)).attr('stroke', '#fff').attr('stroke-width', 1.5)
  legendG.append('text').attr('x', 2295).attr('y', legendY(v)).attr('dy', '0.36em').attr('font-size', 35.5).text(v)
})
</script>
</body>
</html>
